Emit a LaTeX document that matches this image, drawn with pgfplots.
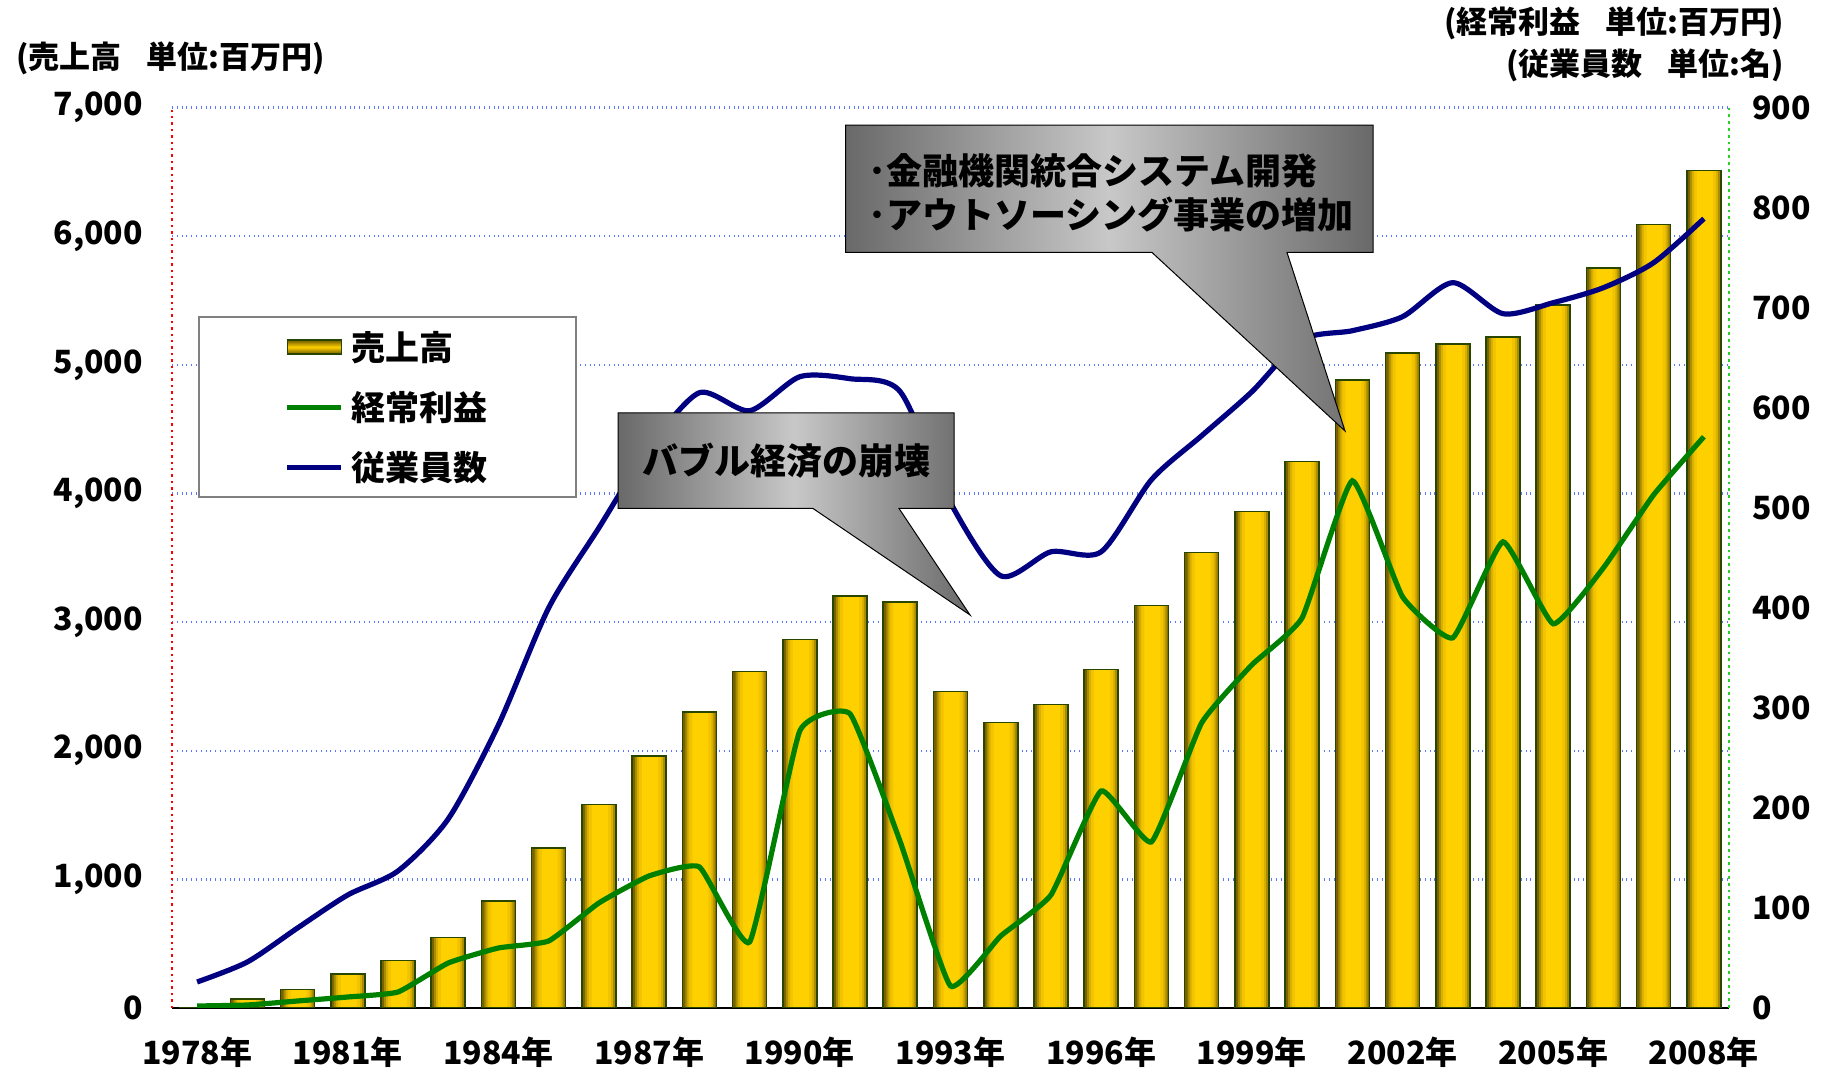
\documentclass[border=0pt]{standalone}
\usepackage{pgfplots}
\usepackage{pgfplotstable}
\pgfplotsset{compat=1.18}
\usepackage{fontspec}
\setmainfont{Noto Sans CJK JP}
\definecolor{gridblue}{RGB}{90,120,255}
\definecolor{barline}{RGB}{40,70,0}
\definecolor{bardark}{RGB}{110,90,0}
\definecolor{barA}{RGB}{120,98,0}
\definecolor{barB}{RGB}{170,140,0}
\definecolor{barC}{RGB}{215,175,0}
\definecolor{barD}{RGB}{242,195,0}
\definecolor{barE}{RGB}{255,208,0}
\definecolor{baryellow}{RGB}{255,208,0}
\definecolor{profitgreen}{RGB}{0,128,0}
\definecolor{empblue}{RGB}{0,0,128}
\definecolor{calloutdark}{RGB}{105,105,105}
\definecolor{calloutlight}{RGB}{200,200,200}
\definecolor{axisgreen}{RGB}{40,210,40}

\pgfplotstableread{
x sales profit emp
0 5 2 26
1 68 3 46
2 143 7 80
3 262 11 113
4 370 16 137
5 548 45 189
6 832 60 283
7 1246 67 400
8 1582 105 480
9 1960 132 560
10 2300 141 615
11 2615 66 597
12 2866 277 631
13 3205 294 629
14 3158 166 616
15 2460 22 505
16 2220 72 432
17 2360 113 456
18 2630 217 456
19 3130 166 528
20 3540 285 572
21 3860 343 616
22 4250 390 668
23 4880 527 677
24 5090 411 691
25 5160 370 725
26 5215 466 694
27 5467 384 705
28 5752 440 720
29 6090 513 745
30 6510 571 789
}\datatable

\begin{document}
\begin{tikzpicture}
\path[use as bounding box] (-86pt,-33pt) rectangle (831pt,504pt);
\begin{axis}[
  at={(0pt,0pt)}, anchor=south west,
  scale only axis, width=778.5pt, height=450.2pt,
  xmin=-0.5, xmax=30.5, ymin=0, ymax=7000,
  axis x line*=bottom, axis y line*=left,
  x axis line style={black, line width=0.8pt, -},
  y axis line style={red, dotted, line width=1.2pt, -},
  ymajorgrids, grid style={gridblue, dotted, line width=1.2pt},
  ytick={0,1000,...,7000},
  xtick={0,3,...,30},
  xticklabels={1978年,1981年,1984年,1987年,1990年,1993年,1996年,1999年,2002年,2005年,2008年},
  major tick length=0pt,
  tick style={draw=none},
  yticklabel style={font=\bfseries\fontsize{16}{16}\selectfont, xshift=-11pt},
  xticklabel style={font=\bfseries\fontsize{16}{16}\selectfont, yshift=-11pt},
  /pgf/number format/assume math mode=true,
  /pgf/number format/1000 sep={,},
  scaled y ticks=false,
]
\addplot[ybar, bar width=17pt, bar shift=0pt, fill=barA, draw=none] table[x=x,y=sales]{\datatable};
\addplot[ybar, bar width=15pt, bar shift=0.5pt, fill=barB, draw=none] table[x=x,y=sales]{\datatable};
\addplot[ybar, bar width=13pt, bar shift=0.5pt, fill=barC, draw=none] table[x=x,y=sales]{\datatable};
\addplot[ybar, bar width=11pt, bar shift=0.5pt, fill=barD, draw=none] table[x=x,y=sales]{\datatable};
\addplot[ybar, bar width=8pt, bar shift=0.5pt, fill=barE, draw=none] table[x=x,y=sales]{\datatable};
\addplot[ybar, bar width=17pt, bar shift=0pt, fill=none, draw=barline, line width=0.8pt] table[x=x,y=sales]{\datatable};
\end{axis}
\begin{axis}[
  at={(0pt,0pt)}, anchor=south west,
  scale only axis, width=778.5pt, height=450.2pt,
  xmin=-0.5, xmax=30.5, ymin=0, ymax=900,
  axis x line=none, axis y line*=right,
  y axis line style={axisgreen, dotted, line width=1.4pt, -},
  ytick={0,100,...,900},
  major tick length=0pt,
  tick style={draw=none},
  yticklabel style={font=\bfseries\fontsize{16}{16}\selectfont, xshift=8pt},
  /pgf/number format/assume math mode=true,
  legend cell align=left,
  legend style={at={(0.0165,0.7686)}, anchor=north west,
    draw=gray, line width=1pt, fill=white,
    inner xsep=43pt, inner ysep=6pt,
    nodes={inner sep=1pt, font=\bfseries\fontsize{17}{17}\selectfont},
    column sep=3pt, row sep=12pt},
]
\addlegendimage{legend image code/.code={\draw[draw=barline, line width=0.7pt, top color=bardark, bottom color=bardark, middle color=baryellow] (0pt,-3.5pt) rectangle (27pt,3.5pt);}}
\addlegendentry{売上高}
\addplot[profitgreen, line width=2.6pt, smooth, tension=0.25,
  legend image code/.code={\draw[profitgreen, line width=2.6pt] (0pt,0pt) -- (27pt,0pt);}]
  table[x=x,y=profit]{\datatable};
\addlegendentry{経常利益}
\addplot[empblue, line width=2.6pt, smooth, tension=0.45,
  legend image code/.code={\draw[empblue, line width=2.6pt] (0pt,0pt) -- (27pt,0pt);}]
  table[x=x,y=emp]{\datatable};
\addlegendentry{従業員数}
\end{axis}
% callout 1
\draw[black, line width=0.5pt, left color=calloutdark, right color=calloutdark, middle color=calloutlight]
  (223pt,249.75pt) -- (223pt,297.5pt) -- (391pt,297.5pt) -- (391pt,249.75pt) -- (363.5pt,249.75pt) -- (399pt,196.5pt) -- (320.5pt,249.75pt) -- cycle;
\node[font=\bfseries\fontsize{18}{18}\selectfont] at (307pt,273.6pt) {バブル経済の崩壊};
% callout 2
\draw[black, line width=0.5pt, left color=calloutdark, right color=calloutdark, middle color=calloutlight]
  (336.85pt,377.75pt) -- (336.85pt,441.4pt) -- (600.5pt,441.4pt) -- (600.5pt,377.75pt) -- (557.5pt,377.75pt) -- (586.5pt,288.5pt) -- (490pt,377.75pt) -- cycle;
\node[anchor=west, align=left, inner sep=0pt, font=\bfseries\fontsize{18}{22}\selectfont] at (348pt,407.5pt) {･金融機関統合システム開発\\･アウトソーシング事業の増加};
% titles
\node[anchor=west, inner sep=0pt, font=\bfseries\fontsize{15.5}{15.5}\selectfont] at (-78pt,474.75pt) {(売上高\hspace{0.8em}単位:百万円)};
\node[anchor=east, inner sep=0pt, font=\bfseries\fontsize{15.5}{15.5}\selectfont] at (806pt,492.5pt) {(経常利益\hspace{0.8em}単位:百万円)};
\node[anchor=east, inner sep=0pt, font=\bfseries\fontsize{15.5}{15.5}\selectfont] at (806pt,471.5pt) {(従業員数\hspace{0.8em}単位:名)};
\end{tikzpicture}
\end{document}
